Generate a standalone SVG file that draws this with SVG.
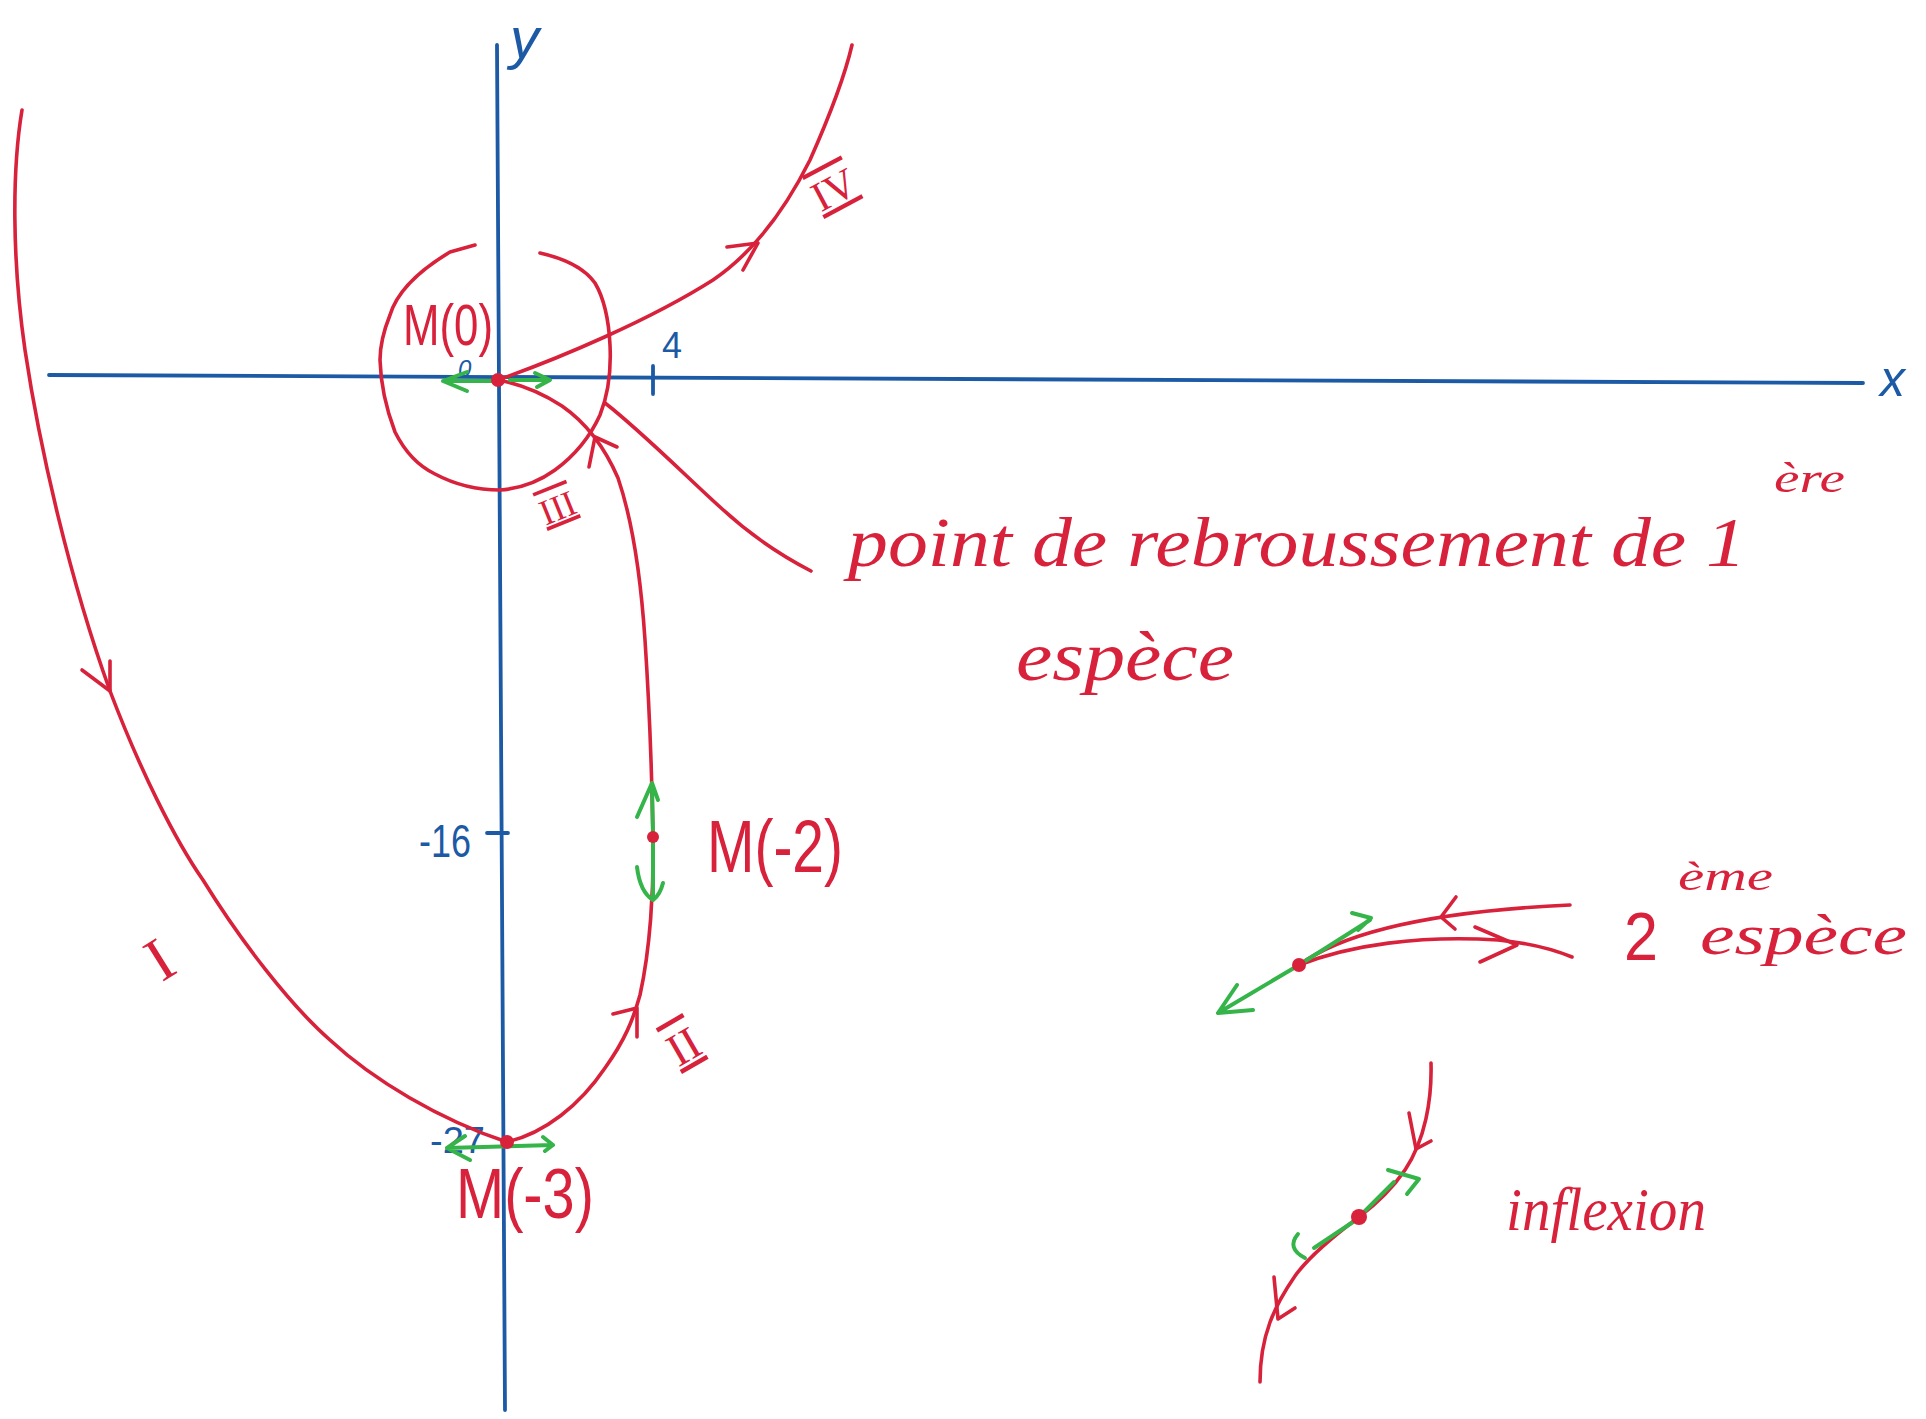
<svg xmlns="http://www.w3.org/2000/svg" width="1926" height="1419" viewBox="0 0 1926 1419">
<style>
.ax{stroke:#1c5aa5;stroke-width:3.8;fill:none;stroke-linecap:round}
.rc{stroke:#d8213b;stroke-width:3.6;fill:none;stroke-linecap:round;stroke-linejoin:round}
.gr{stroke:#35b44a;stroke-width:4;fill:none;stroke-linecap:round;stroke-linejoin:round}
.rt{fill:#d8213b;font-family:"Liberation Sans",Arial,sans-serif}
.st{fill:#d8213b;font-family:"Liberation Serif","Times New Roman",serif;font-style:italic}
.bt{fill:#1c5aa5;font-family:"Liberation Sans",Arial,sans-serif}
.rn{fill:#d8213b;font-family:"Liberation Serif","Times New Roman",serif}
.dot{fill:#d8213b}
</style>
<rect width="1926" height="1419" fill="#ffffff"/>
<g id="axes">
<path class="ax" d="M49,375 L1863,383"/>
<path class="ax" d="M497,45 L505,1410"/>
<path class="ax" d="M653,366 L653,394"/>
<path class="ax" d="M487,833 L508,833"/>
<text class="bt" x="510" y="58" font-size="58" font-style="italic">y</text>
<text class="bt" x="1880" y="396" font-size="50" font-style="italic">x</text>
<text class="bt" x="662" y="358" font-size="36">4</text>
<text class="bt" x="419" y="857" font-size="46" textLength="52" lengthAdjust="spacingAndGlyphs">-16</text>
<text class="bt" x="458" y="377" font-size="24" font-style="italic">0</text>
<text class="bt" x="430" y="1153" font-size="36" textLength="55" lengthAdjust="spacingAndGlyphs">-27</text>
</g>
<g id="connectors">
<path id="curve-I" class="rc" d="M22,110 C12,170 12,260 25,350 C40,450 70,580 110,691 C140,770 175,840 203,880 C240,940 290,1005 330,1040 C373,1080 440,1120 507,1142"/>
<path id="curve-II-III" class="rc" d="M507,1142 C545,1133 580,1105 605,1068 C625,1040 633,1020 640,995 C650,950 654,890 653,837 C652,780 649,700 645,640 C641,580 634,525 618,478 C605,448 585,422 562,406 C542,393 520,384 498,380"/>
<path id="curve-IV" class="rc" d="M498,380 C560,358 650,320 713,280 C760,248 790,200 810,160 C830,115 845,75 852,45"/>
<path id="cusp-circle" class="rc" d="M475,245 L450,252 Q400,282 390,315 Q380,340 380,360 Q381,395 395,432 Q410,462 435,474 Q465,490 500,490 Q530,488 555,470 Q585,448 600,415 Q612,385 610,345 Q608,305 595,283 Q580,262 540,253"/>
<path id="pointer" class="rc" d="M605,403 C640,430 690,480 720,507 C750,535 780,555 811,571"/>
<path class="rc" d="M82,670 L110,691 L110,661"/>
<path class="rc" d="M727,247 L758,243 L743,270"/>
<path class="rc" d="M613,1014 L637,1008 L637,1037"/>
<path class="rc" d="M589,467 L595,437 L617,447"/>
</g>
<g id="tangents-green">
<path class="gr" d="M493,381 L443,381 M467,372 L443,381 L467,391"/>
<path class="gr" d="M510,380 L548,380 M535,373 L550,380 L537,387"/>
<path class="gr" d="M653,837 L652,783 M637,817 L652,783 L658,800"/>
<path class="gr" d="M653,840 L653,900 M637,867 Q640,892 653,900 Q660,895 663,883"/>
<path class="gr" d="M447,1148 L553,1145 M465,1136 L447,1148 L470,1160 M543,1137 L553,1145 L545,1151"/>
</g>
<g id="node-M0">
<circle class="dot" cx="498" cy="380" r="7"/>
<text class="rt" x="403" y="345" font-size="58" textLength="90" lengthAdjust="spacingAndGlyphs">M(0)</text>
</g>
<g id="node-M-2">
<circle class="dot" cx="653" cy="837" r="6"/>
<text class="rt" x="707" y="872" font-size="74" textLength="136" lengthAdjust="spacingAndGlyphs">M(-2)</text>
</g>
<g id="node-M-3">
<circle class="dot" cx="507" cy="1142" r="7"/>
<text class="rt" x="456" y="1218" font-size="70" textLength="138" lengthAdjust="spacingAndGlyphs">M(-3)</text>
</g>
<g id="labels-branches">
<text class="rn" x="160" y="980" font-size="62" text-anchor="middle" transform="rotate(-32 160 960)">I</text>
<text class="rn" x="683" y="1062" font-size="46" text-anchor="middle" text-decoration="overline underline" transform="rotate(-30 683 1045)">II</text>
<text class="rn" x="557" y="520" font-size="36" text-anchor="middle" text-decoration="overline underline" transform="rotate(-22 557 506)">III</text>
<text class="rn" x="833" y="204" font-size="42" text-anchor="middle" text-decoration="overline underline" transform="rotate(-28 833 188)">IV</text>
</g>
<g id="label-cusp1">
<text class="st" x="848" y="566" font-size="70" textLength="898" lengthAdjust="spacingAndGlyphs">point de rebroussement de 1</text>
<text class="st" x="1774" y="492" font-size="42" textLength="71" lengthAdjust="spacingAndGlyphs">ère</text>
<text class="st" x="1016" y="680" font-size="70" textLength="218" lengthAdjust="spacingAndGlyphs">espèce</text>
</g>
<g id="node-cusp2">
<path class="rc" d="M1299,965 C1340,935 1420,912 1570,905"/>
<path class="rc" d="M1299,965 C1350,945 1420,935 1498,940 C1530,943 1555,950 1572,957"/>
<path class="rc" d="M1456,897 L1441,917 L1455,929"/>
<path class="rc" d="M1475,927 L1517,945 L1480,962"/>
<path class="gr" d="M1299,965 L1370,920 M1352,913 L1371,918 L1358,930"/>
<path class="gr" d="M1299,965 L1218,1013 M1237,985 L1218,1013 L1253,1010"/>
<circle class="dot" cx="1299" cy="965" r="7"/>
<text class="rt" x="1624" y="960" font-size="68" textLength="34" lengthAdjust="spacingAndGlyphs">2</text>
<text class="st" x="1678" y="890" font-size="40" textLength="95" lengthAdjust="spacingAndGlyphs">ème</text>
<text class="st" x="1700" y="954" font-size="56" textLength="207" lengthAdjust="spacingAndGlyphs">espèce</text>
</g>
<g id="node-inflexion">
<path class="rc" d="M1431,1063 C1432,1100 1425,1140 1405,1170 C1390,1192 1375,1205 1359,1217 C1335,1235 1310,1255 1295,1276 C1275,1305 1260,1335 1260,1382"/>
<path class="rc" d="M1409,1113 L1416,1149 L1431,1141"/>
<path class="rc" d="M1274,1277 L1278,1319 L1295,1308"/>
<path class="gr" d="M1359,1217 L1394,1182 M1388,1170 L1419,1179 L1407,1194"/>
<path class="gr" d="M1356,1220 L1314,1248 M1298,1234 Q1286,1248 1305,1258"/>
<circle class="dot" cx="1359" cy="1217" r="8"/>
<text class="st" x="1506" y="1230" font-size="62" textLength="200" lengthAdjust="spacingAndGlyphs">inflexion</text>
</g>
</svg>
